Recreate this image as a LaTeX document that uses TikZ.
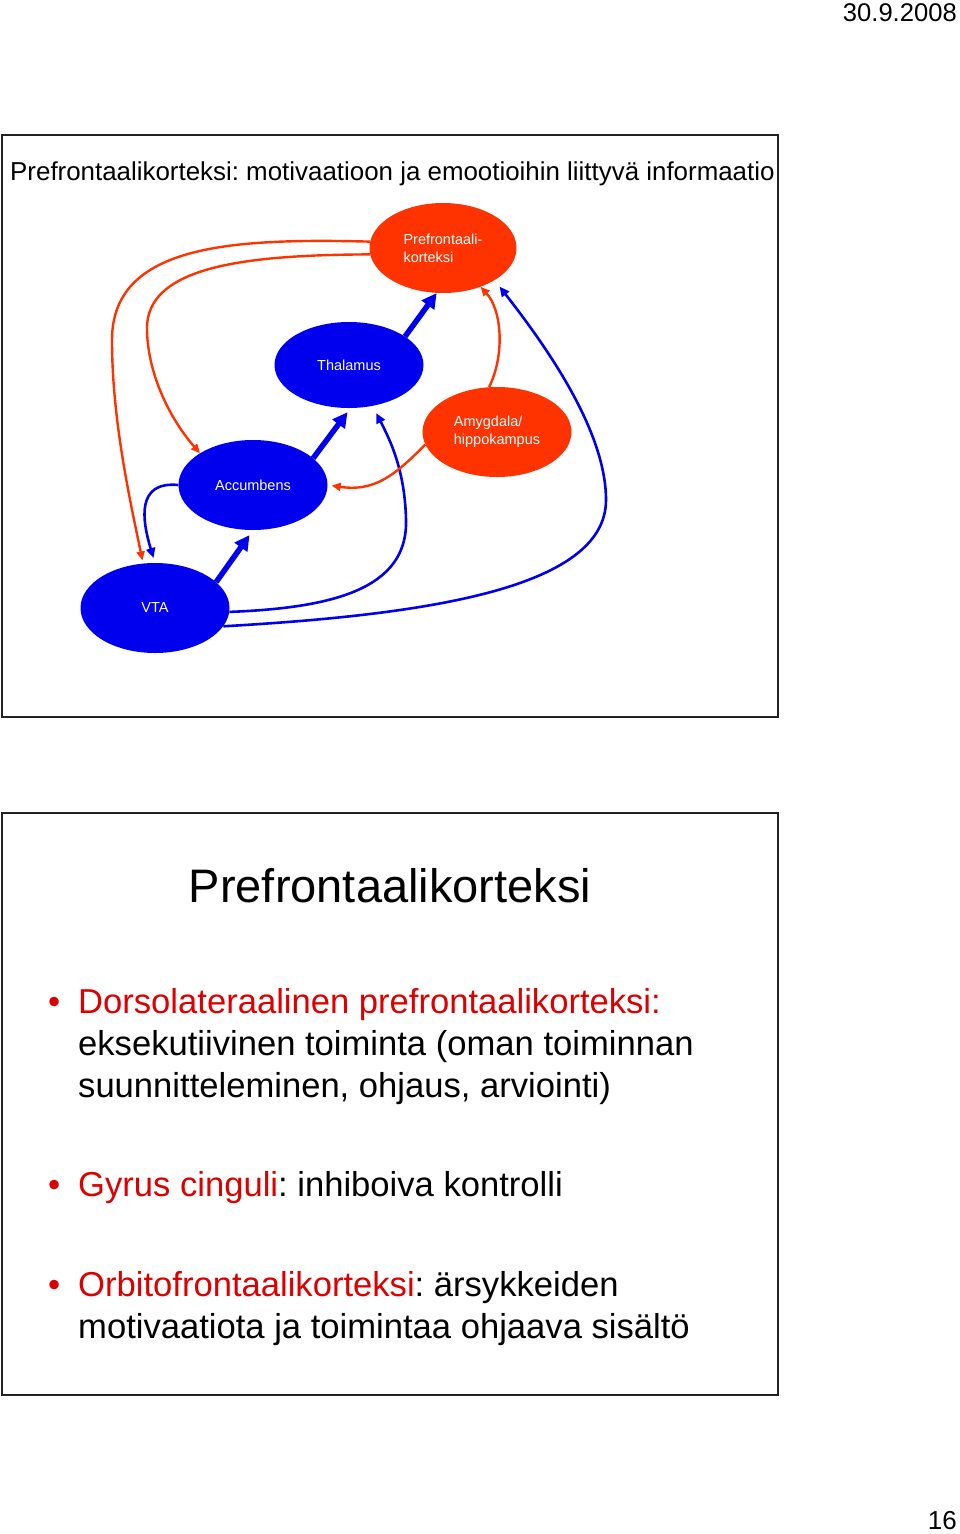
\documentclass[tikz,border=0pt]{standalone}
\usepackage{fontspec}
\setmainfont{Liberation Sans}
\usetikzlibrary{shapes.geometric,arrows.meta,positioning}
\definecolor{cortexred}{RGB}{255,51,0}
\definecolor{nucblue}{RGB}{0,0,238}
\definecolor{termred}{RGB}{221,0,0}
\definecolor{framegray}{RGB}{34,34,34}
\frenchspacing

\begin{document}
\begin{tikzpicture}
[x=1pt,y=-1pt,
 area/.style = {ellipse, minimum width=149pt, minimum height=90pt, inner sep=0pt, text=white, align=left, font=\fontsize{14.5}{18}\selectfont},
 redarea/.style = {area, fill=cortexred},
 bluearea/.style = {area, fill=nucblue},
 fat/.style = {nucblue, line width=5.5pt, -{Triangle[length=15pt,width=15pt]}},
 thinblue/.style = {nucblue, line width=2.6pt, -{Triangle[length=10pt,width=9pt]}},
 thinred/.style = {cortexred, line width=2.4pt, -{Triangle[length=9pt,width=8pt]}},
 panel/.style = {draw=framegray, line width=2pt},
 line/.style = {anchor=base west, inner sep=0pt, align=left, font=\fontsize{34.6}{42}\selectfont},
 dot/.style = {anchor=base west, inner sep=0pt, text=termred, font=\fontsize{34.6}{42}\selectfont},
]
\useasboundingbox (0,0) rectangle (960,1534);

\node (date) at (957,21)[anchor=base east, inner sep=0pt, font=\fontsize{25.6}{30}\selectfont] {30.9.2008};
\node (page) at (957,1529)[anchor=base east, inner sep=0pt, font=\fontsize{26}{30}\selectfont] {16};

\draw[panel] (2,135) rectangle (778,717);
\node (title) at (10,180)[anchor=base west, inner sep=0pt, font=\fontsize{25.9}{31}\selectfont] {Prefrontaalikorteksi: motivaatioon ja emootioihin liittyvä informaatio};

\node (pfc) at (443,248)[redarea, minimum width=147pt] {Prefrontaali-\\korteksi};
\node (thal) at (349,365)[bluearea, minimum height=86pt] {Thalamus};
\node (amyg) at (497,432)[redarea] {Amygdala/\\hippokampus};
\node (acc) at (253,485)[bluearea] {Accumbens};
\node (vta) at (155,608)[bluearea] {VTA};

\draw[fat] (thal.27) -- (pfc.262);
\draw[fat, shorten >=5pt] (acc.24) -- (thal.272);
\draw[fat, shorten >=6pt] (vta.23) -- (acc.270);

\draw[thinblue, shorten >=5pt] (acc.west) .. controls (136,481) and (142,520) .. (vta.north);
\draw[thinblue, shorten >=8pt] (vta.-3) .. controls (330,608) and (408,590) .. (406,520) .. controls (405,470) and (390,440) .. (thal.300);
\draw[thinblue, shorten >=8pt] (vta.-15) .. controls (420,615) and (606,590) .. (606,500) .. controls (606,430) and (545,345) .. (pfc.-32);

\draw[thinred, shorten >=4pt] (amyg.190) .. controls (395,475) and (375,492) .. (acc.east);
\draw[thinred] (amyg.100) .. controls (505,355) and (502,310) .. (pfc.-46);
\draw[thinred] (pfc.185) .. controls (250,255) and (145,265) .. (147,330) .. controls (148,380) and (175,425) .. (acc.149);
\draw[thinred, shorten >=3pt] (pfc.175) .. controls (230,238) and (112,245) .. (112,340) .. controls (112,420) and (130,500) .. (vta.105);

\draw[panel] (2,813) rectangle (778,1395);
\node (head) at (390,902)[anchor=base, inner sep=0pt, font=\fontsize{47}{56}\selectfont] {Prefrontaalikorteksi};

\node (dot1) at (48,1013)[dot] {•};
\node (dlpfc) at (78,1097)[line] {\textcolor{termred}{Dorsolateraalinen prefrontaalikorteksi:}\\eksekutiivinen toiminta (oman toiminnan\\suunnitteleminen, ohjaus, arviointi)};
\node (dot2) at (48,1196)[dot] {•};
\node (cing) at (78,1196)[line] {\textcolor{termred}{Gyrus cinguli}: inhiboiva kontrolli};
\node (dot3) at (48,1296)[dot] {•};
\node (ofc) at (78,1338)[line] {\textcolor{termred}{Orbitofrontaalikorteksi}: ärsykkeiden\\motivaatiota ja toimintaa ohjaava sisältö};

\end{tikzpicture}
\end{document}
